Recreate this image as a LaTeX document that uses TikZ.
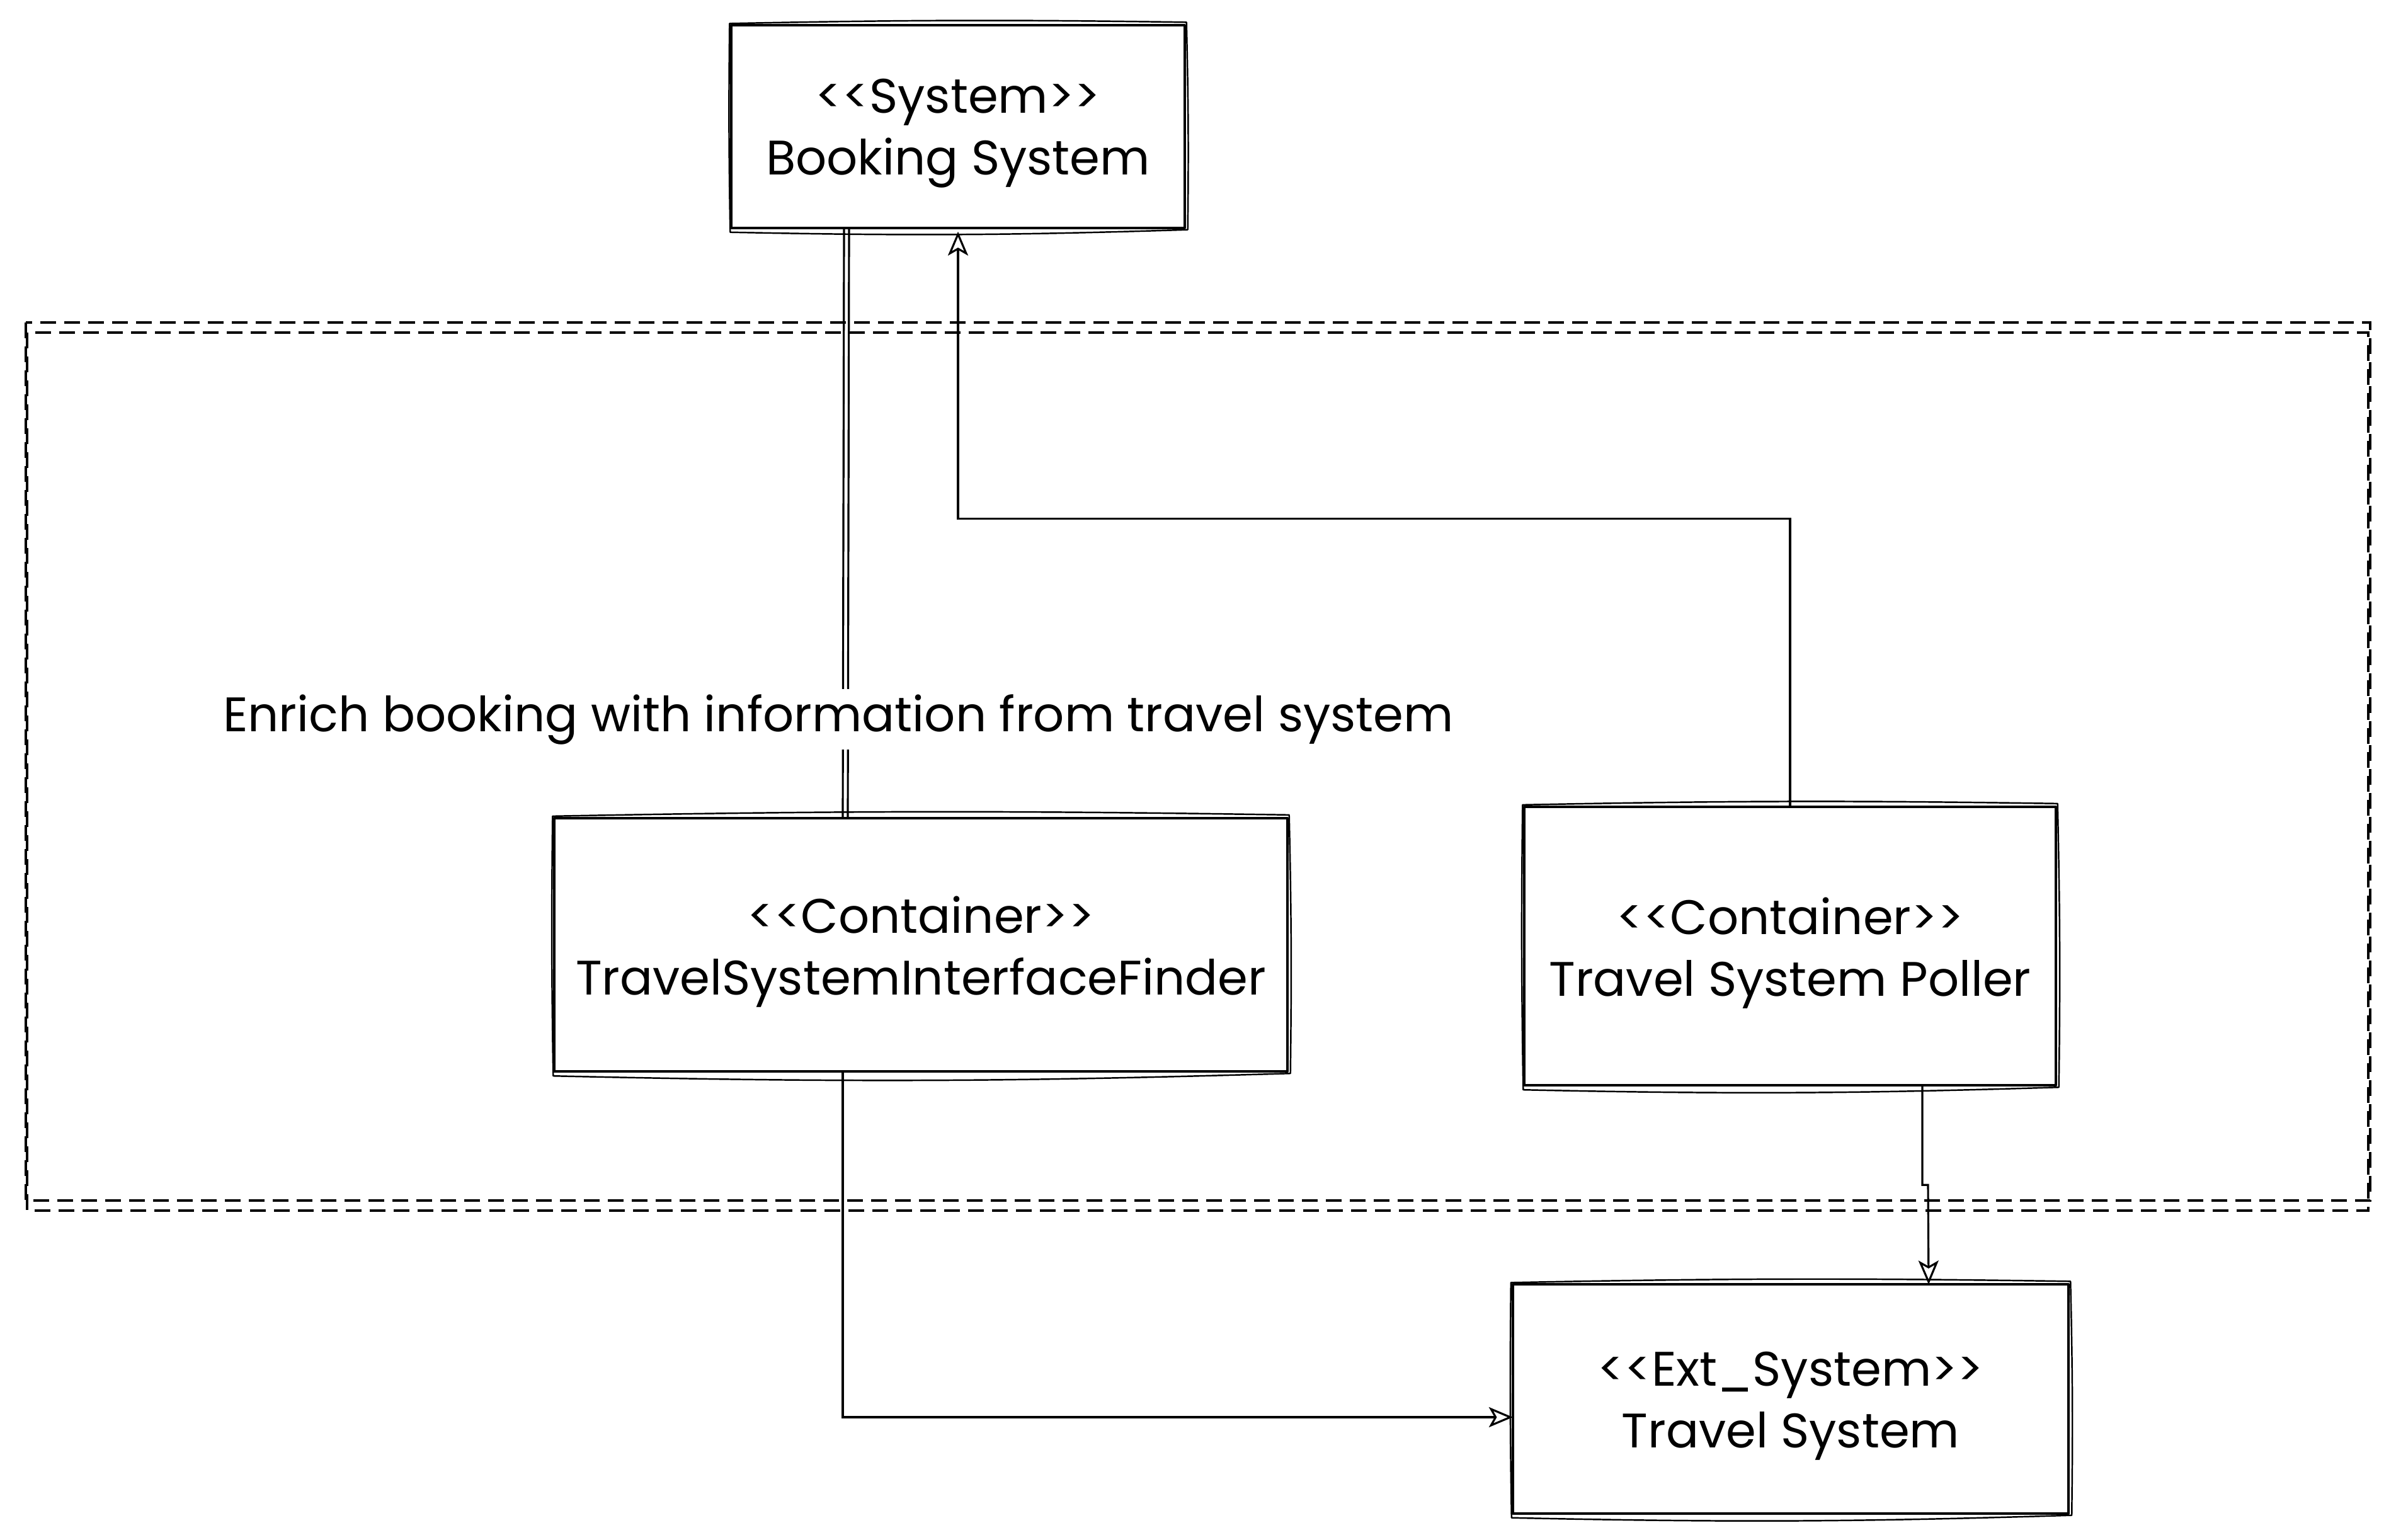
\documentclass[tikz,border=0pt]{standalone}
\usepackage{fontspec}
\setmainfont{Poppins}
\usetikzlibrary{arrows.meta,calc}
\tikzset{
  boxline/.style={line width=1.1pt, line join=round},
  boxline2/.style={line width=0.7pt, line join=round},
  conn/.style={line width=0.9pt},
  tip/.style={-{Stealth[open, length=0.38cm, width=0.32cm, inset=0.09cm, line width=0.9pt]}},
  boundary/.style={line width=1.0pt, dash pattern=on 0.25cm off 0.13cm},
  boxnode/.style={inner sep=0pt},
  boxtext/.style={inner sep=0pt, align=center, font=\fontsize{21.9}{28}\selectfont},
  lbl/.style={inner sep=0pt, font=\fontsize{21.9}{28}\selectfont}
}
\newcommand\sketchrect[1]{%
  \draw[boxline] (#1.north west) -- (#1.north east) -- (#1.south east) -- (#1.south west) -- cycle;
  \draw[boxline2] ([shift={(-0.03,0.03)}]#1.north west) to[bend left=1] ([shift={(0.03,0.05)}]#1.north east)
     to[bend left=1] ([shift={(0.05,-0.03)}]#1.south east) to[bend left=1.5] ([shift={(-0.02,-0.07)}]#1.south west)
     to[bend left=0.8] cycle;
}
\begin{document}
\begin{tikzpicture}[x=1cm,y=1cm]
\useasboundingbox (0,0) rectangle (38.04,-24.44);
\fill[white] (0,0) rectangle (38.04,-24.44);

% system boundary (dashed)
\draw[boundary] (0.41,-5.12) rectangle (37.63,-19.06);
\draw[boundary] (0.43,-5.28) rectangle (37.60,-19.22);

% box frames
\node[boxnode, minimum width=7.18cm, minimum height=3.20cm] (book) at (15.21,-2.01) {};
\node[boxnode, minimum width=11.62cm, minimum height=4.01cm] (finder) at (14.62,-15.00) {};
\node[boxnode, minimum width=8.42cm, minimum height=4.41cm] (poller) at (28.42,-15.02) {};
\node[boxnode, minimum width=8.81cm, minimum height=3.62cm] (travel) at (28.43,-22.21) {};

\sketchrect{book}
\sketchrect{finder}
\sketchrect{poller}
\sketchrect{travel}

% box texts
\node[boxtext] (booktxt) at ($(book.center)+(0,-0.11)$) {<{}<System>{}>\\Booking System};
\node[boxtext] (findertxt) at ($(finder.center)+(0,-0.11)$) {<{}<Container>{}>\\TravelSystemInterfaceFinder};
\node[boxtext] (pollertxt) at ($(poller.center)+(0,-0.11)$) {<{}<Container>{}>\\Travel System Poller};
\node[boxtext] (traveltxt) at ($(travel.center)+(0,-0.11)$) {<{}<Ext\_System>{}>\\Travel System};

% Booking -- Finder (with label)
\coordinate (bf1) at ($(book.south)+(-1.81,0)$);
\coordinate (bf2) at ($(finder.north)+(-1.24,0)$);
\draw[conn] (bf1) -- (bf2);
\draw[conn] ($(bf1)+(0.08,0)$) -- ($(bf2)+(0.08,0)$);
\node[lbl, fill=white, minimum height=0.96cm] (label) at (13.31,-11.42) {Enrich booking with information from travel system};

% Finder -> Travel
\coordinate (ft1) at ($(finder.south)+(-1.24,0)$);
\coordinate (ft2) at ($(travel.west)+(0,-0.29)$);
\draw[conn, tip] (ft1) -- (ft1 |- ft2) -- (ft2);

% Poller -> Booking
\coordinate (pb1) at (poller.north);
\draw[conn, tip] (pb1) -- ($(pb1)+(0,4.57)$) -| ($(book.south)+(0,-0.06)$);

% Poller -> Travel
\coordinate (pt1) at ($(poller.south)+(2.10,0)$);
\coordinate (pt2) at ($(travel.north)+(2.19,0)$);
\draw[conn, tip] (pt1) -- ($(pt1)+(0,-1.58)$) -- ($(pt1)+(0.09,-1.58)$) -- (pt2);
\end{tikzpicture}
\end{document}
